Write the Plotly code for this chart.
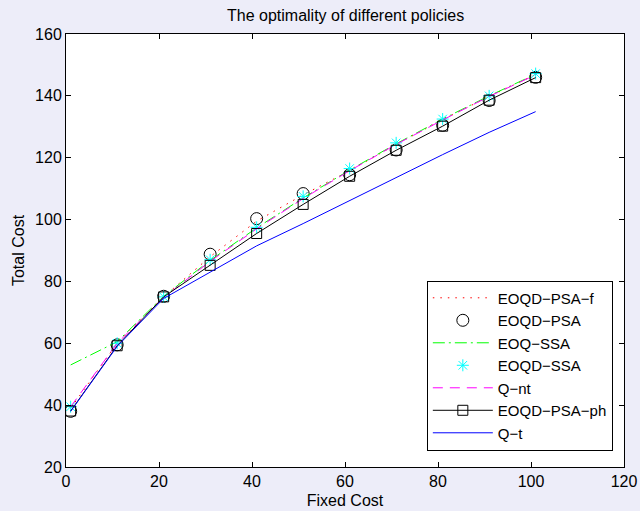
import plotly.graph_objects as go

x = [1, 11, 21, 31, 41, 51, 61, 71, 81, 91, 101]
eoqd_psa_f = [39, 60, 75, 88, 99.5, 108, 115.8, 124.3, 132.3, 139.8, 146.9]
eoqd_psa = [38, 59.5, 75.2, 88.8, 100.3, 108.4, 114.5, 122.5, 130.5, 138.5, 146]
eoq_ssa = [53, 60.5, 75.2, 86.8, 97.3, 107, 116, 124.5, 132.5, 140, 147]
eoqd_ssa = [39.5, 60, 75, 87, 97.5, 107.5, 116.5, 124.8, 132.5, 140, 147.2]
q_nt = [39.5, 60, 74.8, 86.5, 97, 106.8, 115.8, 124.3, 132.2, 139.8, 146.8]
eoqd_psa_ph = [38.1, 59.2, 75, 85.2, 95.5, 104.9, 114, 122.4, 130.2, 138.6, 145.9]
q_t = [38, 59, 74.5, 83, 91.5, 98.7, 106.1, 113.7, 121, 128.2, 134.9]

FONT = "Liberation Sans, Arial, Helvetica"

fig = go.Figure()
fig.add_trace(go.Scatter(x=x, y=eoqd_psa_f, mode="lines", name="EOQD\u2212PSA\u2212f",
                         line=dict(color="#ff0000", dash="1.5px,6px", width=1)))
fig.add_trace(go.Scatter(x=x, y=eoqd_psa, mode="markers", name="EOQD\u2212PSA",
                         marker=dict(symbol="circle-open", size=12, color="black", line=dict(width=1))))
fig.add_trace(go.Scatter(x=x, y=eoq_ssa, mode="lines", name="EOQ\u2212SSA",
                         line=dict(color="#00ff00", dash="12px,4px,2px,4px", width=1)))
fig.add_trace(go.Scatter(x=x, y=eoqd_ssa, mode="markers", name="EOQD\u2212SSA",
                         marker=dict(symbol="asterisk-open", size=10, color="#00ffff", line=dict(width=1, color="#00ffff"))))
fig.add_trace(go.Scatter(x=x, y=q_nt, mode="lines", name="Q\u2212nt",
                         line=dict(color="#ff00ff", dash="10px,7px", width=1)))
fig.add_trace(go.Scatter(x=x, y=eoqd_psa_ph, mode="lines+markers", name="EOQD\u2212PSA\u2212ph",
                         line=dict(color="black", width=1),
                         marker=dict(symbol="square-open", size=10, color="black", line=dict(width=1))))
fig.add_trace(go.Scatter(x=x, y=q_t, mode="lines", name="Q\u2212t",
                         line=dict(color="#0000ff", width=1)))

axis_common = dict(showgrid=False, zeroline=False, showline=True, linecolor="black", linewidth=1,
                   mirror="ticks", ticks="inside", ticklen=5, tickcolor="black", automargin=False,
                   tickfont=dict(family=FONT, size=16, color="black"))
fig.update_xaxes(range=[0, 120], tickvals=[0, 20, 40, 60, 80, 100, 120],
                 title=dict(text="Fixed Cost", font=dict(family=FONT, size=16, color="black"), standoff=5),
                 **axis_common)
fig.update_yaxes(range=[20, 160], tickvals=[20, 40, 60, 80, 100, 120, 140, 160],
                 title=dict(text="Total Cost", font=dict(family=FONT, size=16, color="black"), standoff=6),
                 **axis_common)

fig.update_layout(
    width=640, height=511,
    margin=dict(l=66, r=16, t=34, b=44),
    paper_bgcolor="#EDEDF9", plot_bgcolor="white",
    title=dict(text="The optimality of different policies", x=0.54, xanchor="center", y=0.97, yanchor="middle",
               font=dict(family=FONT, size=16, color="black")),
    legend=dict(x=0.98, xanchor="right", y=0.038, yanchor="bottom",
                bgcolor="white", bordercolor="black", borderwidth=1, itemwidth=60,
                font=dict(family=FONT, size=15, color="black")),
    showlegend=True,
)

fig.write_html("out.html")
